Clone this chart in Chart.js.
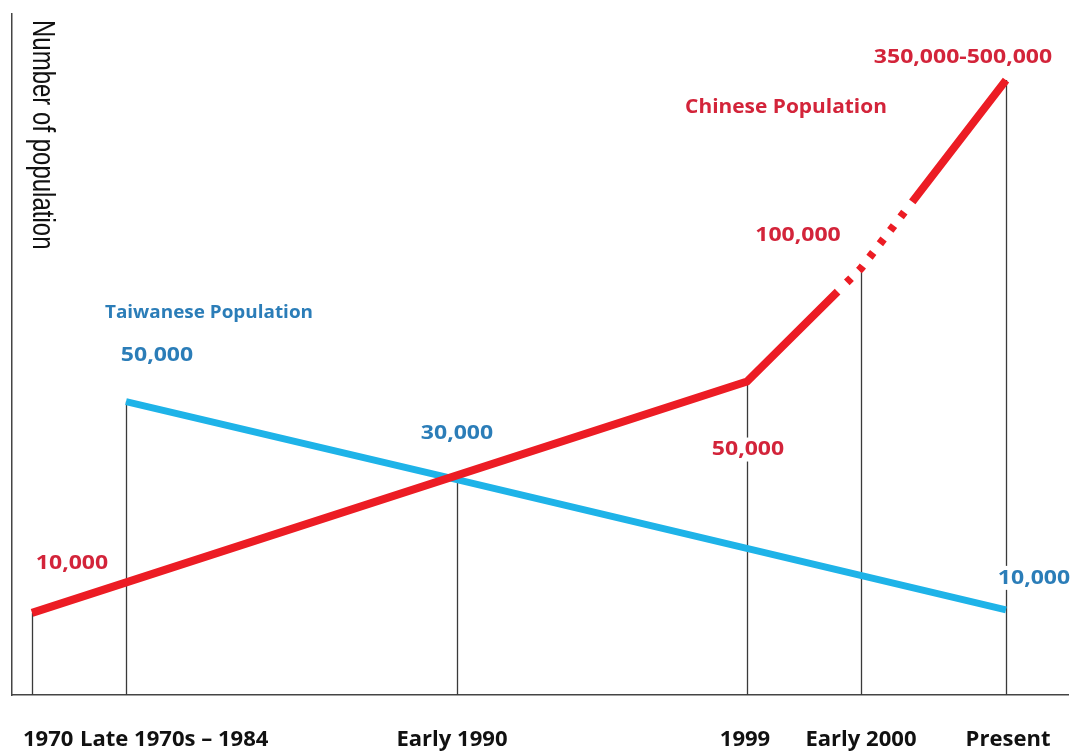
<!DOCTYPE html>
<html>
<head>
<meta charset="utf-8">
<title>Chinese and Taiwanese population</title>
<script src="https://cdn.jsdelivr.net/npm/chart.js@4.4.1/dist/chart.umd.min.js"></script>
<style>
  html, body { margin: 0; padding: 0; background: #fff; }
  #wrap { width: 1073px; height: 751px; }
</style>
</head>
<body>
<div id="wrap"><canvas id="popChart" width="1073" height="751"></canvas></div>
<script>
// Time points as drawn (not evenly spaced in the original sketch)
const categories = ['1970', 'Late 1970s \u2013 1984', 'Early 1990', '1999', 'Early 2000', 'Present'];
const positions = [20, 114, 445, 735, 849, 994];

// Heights of the two lines above the time axis (schematic, no numeric axis)
const chineseValues = [82, null, null, 313, 426, 614];
const taiwaneseValues = [null, 293, 215, null, null, 85];

// Printed population figures
const chineseLabels = ['10,000', null, null, '50,000', '100,000', '350,000-500,000'];
const taiwaneseLabels = [null, '50,000', '30,000', null, null, '10,000'];

const RED = '#ec1c24';
const BLUE = '#1eb3e8';
const RED_TEXT = '#d3243a';
const BLUE_TEXT = '#2b7db8';

// where each figure sits relative to its point
const chineseNoteOffsets = [[40, -50], null, null, [1, 68], [-63, -33], [-43, -23]];
const taiwaneseNoteOffsets = [null, [31, -46], [0, -46], null, null, [28, -32]];
const tickShift = [-9, -46, -5, -2, 0, 2];
const tickAlign = ['left', 'left', 'center', 'center', 'center', 'center'];

function toPoints(values) {
    return values
        .map((v, i) => (v === null ? null : { x: positions[i], y: v }))
        .filter(p => p);
}

function drawText(ctx, text, x, y, o) {
    ctx.save();
    ctx.font = o.font;
    ctx.textAlign = o.align || 'center';
    ctx.textBaseline = 'middle';
    const w = ctx.measureText(text).width * o.stretch;
    if (o.bg) {
        ctx.fillStyle = '#fff';
        ctx.fillRect(x - w / 2 - 4, y - 12, w + 8, 24);
    }
    ctx.translate(x, y);
    ctx.scale(o.stretch, 1);
    ctx.fillStyle = o.color;
    ctx.fillText(text, 0, 0);
    ctx.restore();
}

// thin vertical lines from each point down to the axis
const dropLines = {
    id: 'dropLines',
    beforeDatasetsDraw(chart) {
        const { ctx, scales: { x, y } } = chart;
        ctx.save();
        ctx.strokeStyle = '#3a3a3a';
        ctx.lineWidth = 1.3;
        categories.forEach((c, i) => {
            const vals = [chineseValues[i], taiwaneseValues[i]].filter(v => v !== null);
            if (!vals.length) return;
            const px = Math.round(x.getPixelForValue(positions[i])) + 0.5;
            ctx.beginPath();
            ctx.moveTo(px, y.getPixelForValue(Math.max(...vals)));
            ctx.lineTo(px, y.getPixelForValue(0));
            ctx.stroke();
        });
        ctx.restore();
    }
};

// red line turns dotted around "Early 2000"
const dottedStretch = {
    id: 'dottedStretch',
    beforeDatasetDraw(chart, args) {
        if (args.index !== 0) return;
        const pts = args.meta.data;
        const breakAt = 2;
        let dist = 0;
        for (let k = 1; k <= breakAt; k++) {
            dist += Math.hypot(pts[k].x - pts[k - 1].x, pts[k].y - pts[k - 1].y);
        }
        const pattern = [dist - 33, 13, 6, 11, 6, 11, 6, 11, 6, 11, 6, 11, 6, 13, 5000, 0];
        const ctx = chart.ctx;
        const orig = CanvasRenderingContext2D.prototype.setLineDash;
        ctx.setLineDash = function () { orig.call(ctx, pattern); };
    },
    afterDatasetDraw(chart, args) {
        if (args.index !== 0) return;
        delete chart.ctx.setLineDash;
    }
};

const notes = {
    id: 'notes',
    afterDatasetsDraw(chart) {
        const { ctx, scales: { x, y } } = chart;
        const numFont = { font: 'bold 20px "Open Sans"', stretch: 1.15 };

        chineseLabels.forEach((t, i) => {
            if (!t) return;
            const [dx, dy] = chineseNoteOffsets[i];
            drawText(ctx, t, x.getPixelForValue(positions[i]) + dx, y.getPixelForValue(chineseValues[i]) + dy,
                { ...numFont, color: RED_TEXT, bg: i === 3 });
        });
        taiwaneseLabels.forEach((t, i) => {
            if (!t) return;
            const [dx, dy] = taiwaneseNoteOffsets[i];
            drawText(ctx, t, x.getPixelForValue(positions[i]) + dx, y.getPixelForValue(taiwaneseValues[i]) + dy,
                { ...numFont, color: BLUE_TEXT, bg: i === 5 });
        });

        // series names
        drawText(ctx, 'Chinese Population', x.getPixelForValue(positions[5]) - 220, y.getPixelForValue(chineseValues[5]) + 27,
            { font: 'bold 19px "Open Sans"', stretch: 1.1, color: RED_TEXT });
        drawText(ctx, 'Taiwanese Population', x.getPixelForValue(positions[1]) + 83, y.getPixelForValue(taiwaneseValues[1]) - 89,
            { font: 'bold 18px "Open Sans"', stretch: 1.05, color: BLUE_TEXT });

        // time labels under the axis
        categories.forEach((c, i) => {
            drawText(ctx, c, x.getPixelForValue(positions[i]) + tickShift[i], 740,
                { font: 'bold 21px "Open Sans"', stretch: 1.05, color: '#111', align: tickAlign[i] });
        });

        // axis title, reading downwards
        ctx.save();
        ctx.translate(42, 20);
        ctx.rotate(Math.PI / 2);
        ctx.scale(1, 1.3);
        ctx.font = '24px "Liberation Sans"';
        ctx.fillStyle = '#111';
        ctx.textAlign = 'left';
        ctx.textBaseline = 'middle';
        ctx.fillText('Number of population', 0, 0);
        ctx.restore();
    }
};

new Chart(document.getElementById('popChart').getContext('2d'), {
    type: 'line',
    data: {
        datasets: [
            {
                label: 'Chinese Population',
                data: toPoints(chineseValues),
                borderColor: RED,
                borderWidth: 8,
                borderCapStyle: 'butt',
                borderJoinStyle: 'miter',
                pointRadius: 0,
                tension: 0
            },
            {
                label: 'Taiwanese Population',
                data: toPoints(taiwaneseValues),
                borderColor: BLUE,
                borderWidth: 7,
                borderCapStyle: 'butt',
                pointRadius: 0,
                tension: 0
            }
        ]
    },
    options: {
        responsive: false,
        animation: false,
        layout: { padding: { left: 4, top: 14, right: 5, bottom: 48 } },
        plugins: {
            legend: { display: false },
            tooltip: { enabled: false }
        },
        scales: {
            x: {
                type: 'linear',
                min: 0,
                max: 1056,
                ticks: { display: false },
                grid: { display: false },
                border: { color: '#444', width: 1.5 }
            },
            y: {
                min: 0,
                max: 680,
                ticks: { display: false },
                grid: { display: false },
                border: { color: '#444', width: 1.5 }
            }
        }
    },
    plugins: [dropLines, dottedStretch, notes]
});
</script>
</body>
</html>
